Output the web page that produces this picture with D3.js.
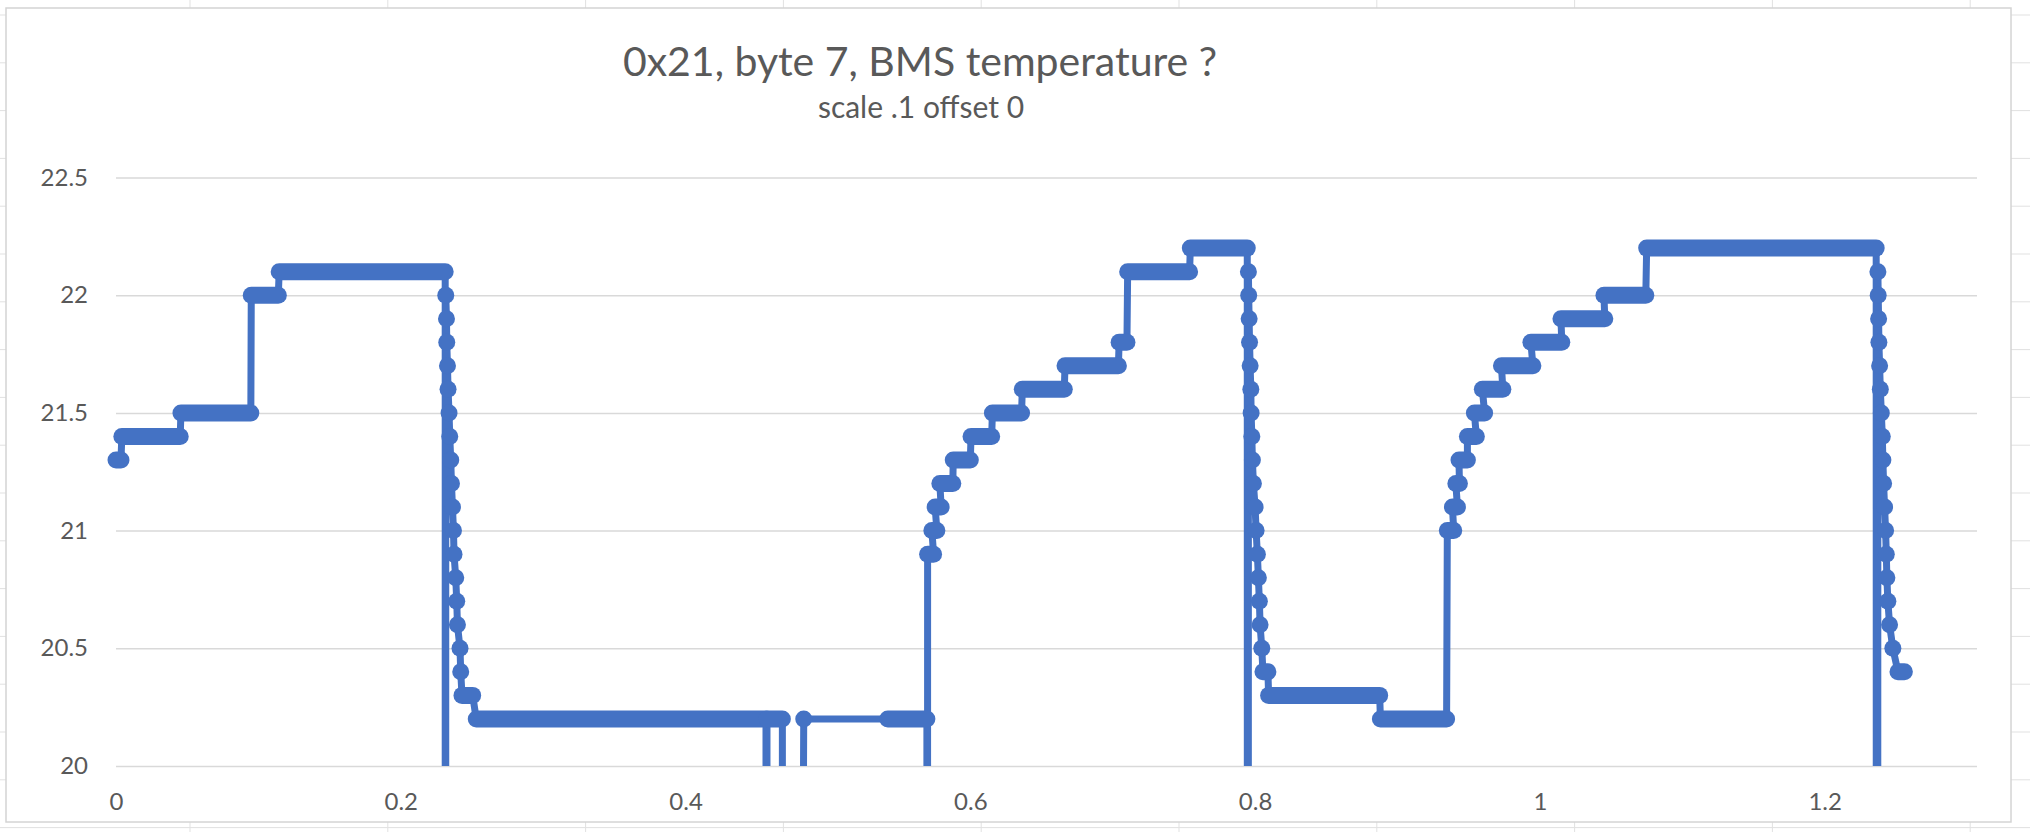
<!DOCTYPE html>
<html>
<head>
<meta charset="utf-8">
<title>0x21, byte 7, BMS temperature ?</title>
<script src="https://cdn.jsdelivr.net/npm/d3@7/dist/d3.min.js"></script>
<style>
  body { margin: 0; background: #fff; }
  svg { display: block; }
</style>
</head>
<body>
<script>
var chartTitle = "0x21, byte 7, BMS temperature ?";
var chartSubtitle = "scale .1 offset 0";
var xTicks = [0, 0.2, 0.4, 0.6, 0.8, 1, 1.2];
var yTicks = [20, 20.5, 21, 21.5, 22, 22.5];

/*
Readings as [first time, last time, temperature].
A reading held over a stretch of time has first < last, a single sample has first == last.
0 is a dropped frame (scale .1 of a zero byte).
*/
var firstWarm = [
  [0.0000, 0.0035, 21.3], [0.0041, 0.0451, 21.4], [0.0456, 0.0947, 21.5],
  [0.0950, 0.1140, 22.0], [0.1146, 0.2312, 22.1], [0.2314, 0.2314, 0]
];
var firstDrop = [
  [0.2316, 0.2316, 22.0], [0.2321, 0.2321, 21.9], [0.2323, 0.2323, 21.8],
  [0.2328, 0.2328, 21.7], [0.2332, 0.2332, 21.6], [0.2339, 0.2339, 21.5],
  [0.2344, 0.2344, 21.4], [0.2351, 0.2351, 21.3], [0.2356, 0.2356, 21.2],
  [0.2363, 0.2363, 21.1], [0.2370, 0.2370, 21.0], [0.2374, 0.2374, 20.9],
  [0.2386, 0.2386, 20.8], [0.2393, 0.2393, 20.7], [0.2398, 0.2398, 20.6],
  [0.2416, 0.2416, 20.5], [0.2421, 0.2421, 20.4], [0.2430, 0.2505, 20.3]
];
var firstLow = [
  [0.2530, 0.4565, 20.2], [0.4568, 0.4568, 0], [0.4572, 0.4680, 20.2],
  [0.4685, 0.4685, 0], [0.4830, 0.4830, 20.2], [0.5420, 0.5695, 20.2],
  [0.5697, 0.5697, 0]
];
var secondWarm = [
  [0.5700, 0.5742, 20.9], [0.5730, 0.5765, 21.0], [0.5753, 0.5795, 21.1],
  [0.5786, 0.5877, 21.2], [0.5880, 0.6000, 21.3], [0.6005, 0.6150, 21.4],
  [0.6155, 0.6360, 21.5], [0.6365, 0.6660, 21.6], [0.6665, 0.7040, 21.7],
  [0.7045, 0.7100, 21.8], [0.7105, 0.7540, 22.1], [0.7545, 0.7945, 22.2],
  [0.7949, 0.7949, 0]
];
var secondDrop = [
  [0.7953, 0.7953, 22.1], [0.7955, 0.7955, 22.0], [0.7958, 0.7958, 21.9],
  [0.7961, 0.7961, 21.8], [0.7965, 0.7965, 21.7], [0.7970, 0.7970, 21.6],
  [0.7972, 0.7972, 21.5], [0.7977, 0.7977, 21.4], [0.7981, 0.7981, 21.3],
  [0.7988, 0.7988, 21.2], [0.8000, 0.8000, 21.1], [0.8007, 0.8007, 21.0],
  [0.8016, 0.8016, 20.9], [0.8023, 0.8023, 20.8], [0.8030, 0.8030, 20.7],
  [0.8035, 0.8035, 20.6], [0.8047, 0.8047, 20.5], [0.8055, 0.8090, 20.4]
];
var secondLow = [
  [0.8095, 0.8875, 20.3], [0.8880, 0.9345, 20.2]
];
var thirdWarm = [
  [0.9350, 0.9395, 21.0], [0.9386, 0.9421, 21.1], [0.9410, 0.9435, 21.2],
  [0.9432, 0.9491, 21.3], [0.9491, 0.9554, 21.4], [0.9540, 0.9612, 21.5],
  [0.9596, 0.9740, 21.6], [0.9730, 0.9951, 21.7], [0.9937, 1.0154, 21.8],
  [1.0148, 1.0456, 21.9], [1.0450, 1.0744, 22.0], [1.0750, 1.2362, 22.2],
  [1.2366, 1.2366, 0]
];
var thirdDrop = [
  [1.2374, 1.2374, 22.1], [1.2376, 1.2376, 22.0], [1.2379, 1.2379, 21.9],
  [1.2381, 1.2381, 21.8], [1.2386, 1.2386, 21.7], [1.2391, 1.2391, 21.6],
  [1.2398, 1.2398, 21.5], [1.2405, 1.2405, 21.4], [1.2409, 1.2409, 21.3],
  [1.2414, 1.2414, 21.2], [1.2421, 1.2421, 21.1], [1.2428, 1.2428, 21.0],
  [1.2433, 1.2433, 20.9], [1.2437, 1.2437, 20.8], [1.2444, 1.2444, 20.7],
  [1.2456, 1.2456, 20.6], [1.2479, 1.2479, 20.5], [1.2515, 1.2560, 20.4]
];

var readings = [].concat(firstWarm, firstDrop, firstLow, secondWarm,
  secondDrop, secondLow, thirdWarm, thirdDrop);

var width = 2030, height = 832;
var plotLeft = 116, plotRight = 1977, plotTop = 177.5, plotBottom = 766;
var blue = "#4472C4", textGrey = "#595959";
var markerRadius = 8.5, lineWidth = 7;
var font = "Lato, 'Open Sans', sans-serif";

var svg = d3.select("body").append("svg")
  .attr("width", width)
  .attr("height", height);

/*
Spreadsheet cells showing around the chart
*/
var cells = svg.append("g").style("stroke", "#e1e1e1").style("stroke-width", 1);
cells.selectAll("line.row")
  .data(d3.range(15, height, 47.8))
  .enter().append("line")
  .attr("x1", 0).attr("x2", width)
  .attr("y1", function(d){return d;}).attr("y2", function(d){return d;});
cells.selectAll("line.col")
  .data(d3.range(190, width, 197.8))
  .enter().append("line")
  .attr("y1", 0).attr("y2", height)
  .attr("x1", function(d){return d;}).attr("x2", function(d){return d;});

svg.append("rect")
  .attr("x", 6)
  .attr("y", 8)
  .attr("width", 2005)
  .attr("height", 814)
  .style("fill", "white")
  .style("stroke", "#d4d4d4")
  .style("stroke-width", 1.5);

var x = d3.scaleLinear().domain([0, 1.307]).range([plotLeft, plotRight]);
var y = d3.scaleLinear().domain([20, 22.5]).range([plotBottom, plotTop]);

// horizontal gridlines
var grid = svg.append("g")
  .attr("transform", "translate(" + plotLeft + ",0)")
  .call(d3.axisLeft(y).tickValues(yTicks).tickSize(-(plotRight - plotLeft)).tickFormat(""));
grid.select(".domain").remove();
grid.selectAll("line").style("stroke", "#d9d9d9").style("stroke-width", 1.5);

// tick labels
var yAxis = svg.append("g")
  .attr("transform", "translate(" + plotLeft + ",0)")
  .call(d3.axisLeft(y).tickValues(yTicks).tickSize(0).tickPadding(28).tickFormat(function(d){return String(d);}));
var xAxis = svg.append("g")
  .attr("transform", "translate(0," + plotBottom + ")")
  .call(d3.axisBottom(x).tickValues(xTicks).tickSize(0).tickPadding(27).tickFormat(function(d){return String(d);}));
[yAxis, xAxis].forEach(function(a){
  a.select(".domain").remove();
  a.attr("font-family", font).attr("font-size", 24);
  a.selectAll("text").style("fill", textGrey);
});

svg.append("text")
  .text(chartTitle)
  .attr("x", 920)
  .attr("y", 76)
  .attr("text-anchor", "middle")
  .attr("font-family", font)
  .attr("font-size", 41)
  .style("fill", textGrey);

svg.append("text")
  .text(chartSubtitle)
  .attr("x", 921)
  .attr("y", 118)
  .attr("text-anchor", "middle")
  .attr("font-family", font)
  .attr("font-size", 30)
  .style("fill", textGrey);

/*
Series: line through every reading, markers on top.
Dropped frames (0) run off the bottom of the plot, so clip vertically.
*/
svg.append("clipPath").attr("id", "plotClip")
  .append("rect")
  .attr("x", 0).attr("y", plotTop - 30)
  .attr("width", width).attr("height", plotBottom - plotTop + 30);

var series = svg.append("g").attr("clip-path", "url(#plotClip)");

var points = [];
readings.forEach(function(r){
  points.push([r[0], r[2]]);
  if (r[1] > r[0]) points.push([r[1], r[2]]);
});

var line = d3.line()
  .x(function(d){return x(d[0]);})
  .y(function(d){return y(d[1]);});

series.append("path")
  .datum(points)
  .attr("d", line)
  .style("fill", "none")
  .style("stroke", blue)
  .style("stroke-width", lineWidth)
  .style("stroke-linejoin", "round");

var shown = readings.filter(function(r){return r[2] > 0;});

// long holds: markers packed so tight they form a band
series.selectAll("line.hold")
  .data(shown.filter(function(r){return r[1] > r[0];}))
  .enter().append("line")
  .attr("class", "hold")
  .attr("x1", function(d){return x(d[0]);})
  .attr("x2", function(d){return x(d[1]);})
  .attr("y1", function(d){return y(d[2]);})
  .attr("y2", function(d){return y(d[2]);})
  .style("stroke", blue)
  .style("stroke-width", markerRadius * 2)
  .style("stroke-linecap", "round");

series.selectAll("circle")
  .data(shown.filter(function(r){return r[1] === r[0];}))
  .enter().append("circle")
  .attr("cx", function(d){return x(d[0]);})
  .attr("cy", function(d){return y(d[2]);})
  .attr("r", markerRadius)
  .style("fill", blue);
</script>
</body>
</html>
